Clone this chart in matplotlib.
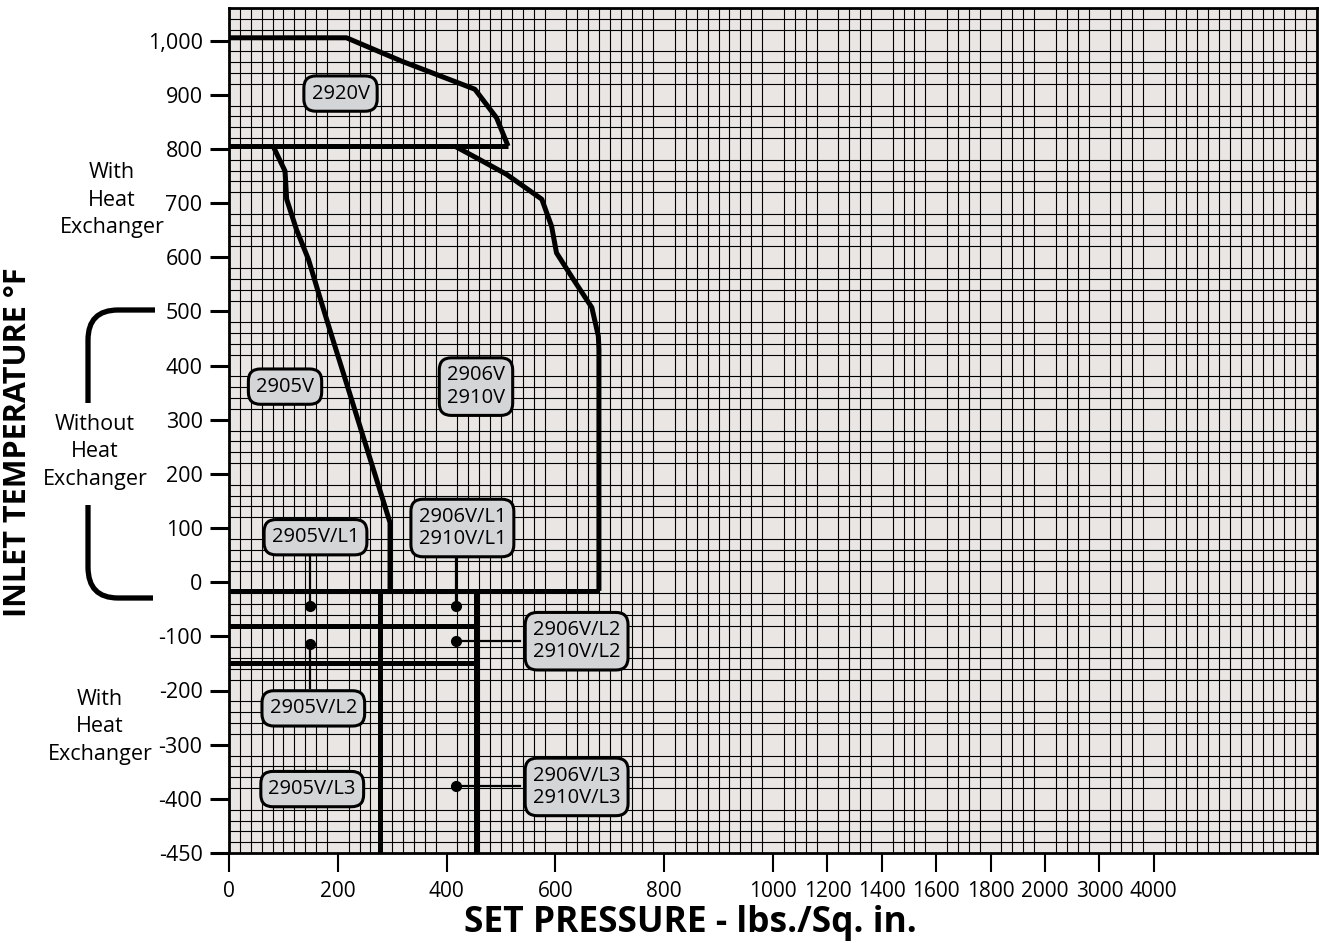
import numpy as np
import matplotlib.pyplot as plt
from matplotlib.path import Path
from matplotlib.patches import PathPatch

plt.rcParams['font.family'] = ['Open Sans', 'DejaVu Sans']

# Axis ticks: set pressure (psi) and inlet temperature (°F)
x_ticks = [0, 200, 400, 600, 800, 1000, 1200, 1400, 1600, 1800, 2000, 3000, 4000]
y_ticks = [1000, 900, 800, 700, 600, 500, 400, 300, 200, 100, 0,
           -100, -200, -300, -400, -450]


def xpos(p):
    # linear to 1000 psi, compressed above
    p = np.asarray(p, dtype=float)
    return np.where(p <= 1000, p,
                    np.where(p <= 2000, 1000 + (p - 1000) / 2, 1500 + (p - 2000) / 10))


def ypos(t):
    # last step (-400 to -450) is stretched to a full division
    t = np.asarray(t, dtype=float)
    return np.where(t >= -400, t, -400 + (t + 400) * 2)


# Envelope outlines (pressure, temperature)
v2920_p = [0, 216, 317, 382, 452, 492, 513]
v2920_t = [1005, 1005, 962, 937, 910, 857, 805]
base800_p = [0, 513]
base800_t = [805, 805]

v2905_p = [81, 103, 106, 124, 146, 170, 189, 296, 296]
v2905_t = [805, 759, 707, 651, 596, 516, 454, 110, -16]

v2906_p = [415, 461, 510, 575, 593, 602, 633, 667, 679, 680, 680]
v2906_t = [805, 780, 753, 707, 657, 608, 559, 507, 454, 430, -16]

zero_p = [0, 680]
zero_t = [-16, -16]

l2_p = [0, 454]
l2_t = [-80, -80]
l3_p = [0, 454]
l3_t = [-150, -150]

split_2905 = 278
split_2906 = 454

# Model labels
label_text = ['2920V', '2905V', '2906V\n2910V', '2905V/L1', '2906V/L1\n2910V/L1',
              '2906V/L2\n2910V/L2', '2905V/L2', '2905V/L3', '2906V/L3\n2910V/L3']
label_p = [205, 103, 454, 159, 429, 639, 155, 153, 639]
label_t = [902, 361, 361, 83, 100, -109, -233, -382, -378]

# Leader lines: start (at dot) and end (at label)
lead_p0 = [149, 417, 149, 417, 417]
lead_t0 = [-44, -44, -114, -108, -376]
lead_p1 = [149, 417, 149, 535, 535]
lead_t1 = [53, 53, -196, -108, -376]

fig = plt.figure(figsize=(13.19, 9.43), dpi=100)
ax = fig.add_axes([229 / 1319, 90 / 943, 1088 / 1319, 845 / 943])
ax.set_facecolor('#e9e6e3')
ax.set_xlim(0, 2000)
ax.set_ylim(-500, 1060)

# fine graph-paper grid
ax.set_xticks(np.arange(0, 2001, 20), minor=True)
ax.set_yticks(np.arange(-500, 1061, 20), minor=True)
ax.grid(which='minor', color='black', linewidth=0.8)
ax.tick_params(which='minor', length=0)
ax.set_axisbelow(True)

ax.set_xticks(xpos(x_ticks))
ax.set_xticklabels([str(v) for v in x_ticks], fontsize=15)
ax.set_yticks(ypos(y_ticks))
ax.set_yticklabels([f'{v:,}' for v in y_ticks], fontsize=15.5)
ax.tick_params(axis='y', which='major', length=14, width=2.2, pad=5)
ax.tick_params(axis='x', which='major', length=14, width=1.5, pad=6)
for s in ax.spines.values():
    s.set_linewidth(2)

lw = 3.6
kw = dict(color='black', linewidth=lw, solid_joinstyle='round', solid_capstyle='butt', zorder=3)
ax.plot(xpos(v2920_p), ypos(v2920_t), **kw)
ax.plot(xpos(base800_p), ypos(base800_t), **kw)
ax.plot(xpos(v2905_p), ypos(v2905_t), **kw)
ax.plot(xpos(v2906_p), ypos(v2906_t), **kw)
ax.plot(xpos(zero_p), ypos(zero_t), **kw)
ax.plot(xpos(l2_p), ypos(l2_t), **kw)
ax.plot(xpos(l3_p), ypos(l3_t), **kw)
ax.plot(xpos([split_2905, split_2905]), ypos([-16, -450]), **kw)
ax.plot(xpos([split_2906, split_2906]), ypos([-16, -450]), **kw)

for p0, t0, p1, t1 in zip(lead_p0, lead_t0, lead_p1, lead_t1):
    ax.plot(xpos([p0, p1]), ypos([t0, t1]), color='black', linewidth=1.6, zorder=4)
    ax.plot(xpos([p0]), ypos([t0]), 'o', color='black', markersize=7, zorder=4)

for txt, p, t in zip(label_text, label_p, label_t):
    ax.text(xpos(p), ypos(t), txt, ha='center', va='center', fontsize=14.5,
            linespacing=1.15, zorder=5,
            bbox=dict(boxstyle='round,pad=0.38,rounding_size=0.6',
                      facecolor='#d4d5d7', edgecolor='black', linewidth=2.2))

# side notes and bracket
side_kw = dict(ha='center', va='center', fontsize=15.5, linespacing=1.4)
fig.text(112 / 1319, 1 - 200 / 943, 'With\nHeat\nExchanger', **side_kw)
fig.text(95 / 1319, 1 - 452 / 943, 'Without\nHeat\nExchanger', **side_kw)
fig.text(100 / 1319, 1 - 727 / 943, 'With\nHeat\nExchanger', **side_kw)

W, H = 1319, 943
def fpt(x, y):
    return (x / W, 1 - y / H)

verts = [fpt(155, 310), fpt(118, 310), fpt(88, 310), fpt(88, 340), fpt(88, 403),
         fpt(88, 505), fpt(88, 567), fpt(88, 598), fpt(118, 598), fpt(153, 598)]
codes = [Path.MOVETO, Path.LINETO, Path.CURVE3, Path.CURVE3, Path.LINETO,
         Path.MOVETO, Path.LINETO, Path.CURVE3, Path.CURVE3, Path.LINETO]
fig.patches.append(PathPatch(Path(verts, codes), transform=fig.transFigure,
                             facecolor='none', edgecolor='black', linewidth=3.8))

fig.text(18 / 1319, 1 - 442 / 943, 'INLET TEMPERATURE °F', rotation=90,
         ha='center', va='center', fontsize=22, fontweight='bold')
fig.text(690 / 1319, 1 - 923 / 943, 'SET PRESSURE - lbs./Sq. in.',
         ha='center', va='center', fontsize=25.5, fontweight='bold')

fig.savefig('out.png', dpi=100)
